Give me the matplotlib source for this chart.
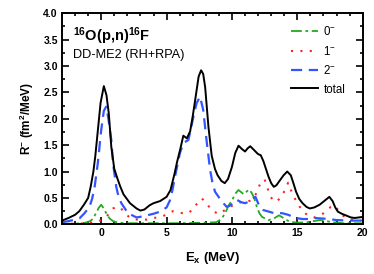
import matplotlib
matplotlib.use("Agg")
import matplotlib.pyplot as plt
from matplotlib.ticker import MultipleLocator

# ---- data ----
e_total = [-3, -2.5, -2, -1.67, -1.3, -1.0, -0.8, -0.6, -0.45, -0.25, -0.05, 0.2, 0.4, 0.58, 0.77, 1.0, 1.25, 1.45,
           1.7, 2.2, 2.7, 3.0, 3.3, 3.7, 4.0, 4.5, 5.0, 5.3, 5.6, 5.8, 6.05, 6.28, 6.55, 6.8, 7.0, 7.2, 7.45, 7.64,
           7.8, 7.95, 8.2, 8.45, 8.7, 8.9, 9.2, 9.45, 9.7, 10.0, 10.25, 10.5, 10.75, 11.0, 11.2, 11.4, 11.6, 11.8,
           12.0, 12.2, 12.4, 12.6, 12.8, 13.0, 13.2, 13.4, 13.6, 13.95, 14.23, 14.5, 14.7, 14.9, 15.15, 15.4, 15.7,
           15.95, 16.3, 16.7, 17.1, 17.45, 17.7, 17.9, 18.1, 18.4, 18.7, 19.1, 19.4, 19.7, 20.0]
r_total = [0.07, 0.12, 0.18, 0.25, 0.38, 0.5, 0.72, 1.0, 1.3, 1.8, 2.3, 2.62, 2.45, 2.1, 1.47, 1.05, 0.86, 0.72,
           0.57, 0.40, 0.30, 0.26, 0.28, 0.36, 0.40, 0.44, 0.52, 0.65, 0.95, 1.18, 1.43, 1.68, 1.63, 1.76, 2.05, 2.38,
           2.8, 2.92, 2.85, 2.6, 1.85, 1.3, 1.05, 0.93, 0.82, 0.78, 0.86, 1.09, 1.35, 1.49, 1.43, 1.38, 1.44, 1.48,
           1.43, 1.38, 1.33, 1.31, 1.2, 1.05, 0.9, 0.78, 0.71, 0.74, 0.81, 0.93, 1.0, 0.93, 0.78, 0.62, 0.48, 0.40,
           0.33, 0.30, 0.32, 0.37, 0.45, 0.52, 0.44, 0.32, 0.24, 0.2, 0.17, 0.13, 0.12, 0.13, 0.14]

e_2m = [-3, -2.5, -2, -1.67, -1.28, -0.9, -0.7, -0.52, -0.26, 0.0, 0.2, 0.38, 0.55, 0.77, 0.9, 1.15, 1.3, 1.54,
        2.05, 2.7, 2.95, 3.5, 4.0, 4.5, 5.0, 5.25, 5.45, 5.64, 5.85, 6.02, 6.28, 6.67, 6.85, 7.05, 7.3, 7.56, 7.8,
        8.08, 8.33, 8.5, 8.7, 9.2, 9.6, 9.9, 10.1, 10.4, 10.7, 11.0, 11.2, 11.5, 11.8, 12.05, 12.4, 13.1, 13.85,
        14.3, 14.87, 15.4, 16.0, 16.3, 16.9, 17.4, 18.0, 19.0, 20.0]
r_2m = [0.04, 0.06, 0.09, 0.11, 0.21, 0.33, 0.48, 0.68, 1.16, 1.79, 2.15, 2.23, 2.0, 1.6, 1.16, 0.71, 0.55, 0.4,
        0.21, 0.13, 0.14, 0.17, 0.2, 0.24, 0.32, 0.45, 0.65, 0.9, 1.15, 1.35, 1.54, 1.6, 1.8, 2.04, 2.3, 2.42, 2.17,
        1.54, 1.03, 0.8, 0.62, 0.44, 0.33, 0.36, 0.43, 0.46, 0.42, 0.40, 0.42, 0.48, 0.52, 0.37, 0.27, 0.22, 0.21,
        0.18, 0.12, 0.1, 0.1, 0.12, 0.11, 0.1, 0.08, 0.07, 0.07]

e_0m = [-3, -2, -1.2, -0.85, -0.65, -0.4, -0.2, 0.0, 0.2, 0.38, 0.64, 0.9, 1.3, 2, 4, 6, 8, 8.8, 9.2, 9.5, 9.75,
        10.0, 10.25, 10.5, 10.9, 11.3, 11.5, 11.7, 11.9, 12.1, 12.3, 12.8, 13.2, 13.6, 14.0, 14.4, 15.0, 15.8, 16.7,
        17.1, 17.6, 18.5, 20]
r_0m = [0.01, 0.01, 0.03, 0.06, 0.1, 0.21, 0.31, 0.37, 0.3, 0.21, 0.11, 0.06, 0.03, 0.02, 0.02, 0.02, 0.03, 0.04,
        0.1, 0.22, 0.36, 0.45, 0.58, 0.65, 0.57, 0.66, 0.6, 0.5, 0.33, 0.21, 0.14, 0.08, 0.11, 0.17, 0.11, 0.05,
        0.03, 0.04, 0.08, 0.07, 0.04, 0.02, 0.02]

e_1m = [-3, -2, -1, -0.3, 0.2, 0.6, 0.9, 1.2, 1.45, 1.8, 2.2, 2.9, 3.5, 4.0, 4.6, 5.1, 5.5, 6.0, 6.5, 7.0, 7.4,
        7.7, 8.05, 8.4, 8.85, 9.1, 9.6, 10.25, 10.7, 11.0, 11.4, 11.8, 12.18, 12.5, 12.7, 12.9, 13.1, 13.4, 13.8,
        14.1, 14.3, 14.6, 15.0, 15.4, 15.8, 16.3, 16.8, 17.2, 17.56, 17.8, 18.2, 18.6, 19.2, 20.0]
r_1m = [0.01, 0.01, 0.02, 0.05, 0.1, 0.2, 0.3, 0.33, 0.32, 0.22, 0.12, 0.08, 0.09, 0.12, 0.14, 0.2, 0.25, 0.22,
        0.2, 0.27, 0.42, 0.49, 0.4, 0.28, 0.21, 0.2, 0.3, 0.38, 0.42, 0.41, 0.45, 0.56, 0.78, 0.85, 0.7, 0.56, 0.46,
        0.43, 0.52, 0.68, 0.79, 0.59, 0.4, 0.25, 0.17, 0.13, 0.17, 0.25, 0.33, 0.36, 0.25, 0.14, 0.09, 0.07]

labels = ["0$^{-}$", "1$^{-}$", "2$^{-}$", "total"]

plt.rcParams['font.family'] = ['Liberation Sans', 'DejaVu Sans']
plt.rcParams['mathtext.fontset'] = 'custom'
plt.rcParams['mathtext.rm'] = 'Liberation Sans'
plt.rcParams['mathtext.bf'] = 'Liberation Sans:bold'
plt.rcParams['mathtext.it'] = 'Liberation Sans:italic'

fig = plt.figure(figsize=(3.74, 2.74), dpi=100)
ax = fig.add_axes([62/374, 1-224.3/274, (362.7-62)/374, (224.3-13.3)/274])

ax.plot(e_0m, r_0m, color='#22aa22', lw=1.3, dashes=[6, 2, 1.5, 2], label=labels[0])
ax.plot(e_1m, r_1m, color='#ff2222', lw=1.5, dashes=[1, 3.5], label=labels[1])
ax.plot(e_2m, r_2m, color='#3355ff', lw=1.6, dashes=[5, 3], label=labels[2])
ax.plot(e_total, r_total, color='black', lw=1.4, label=labels[3])

ax.set_xlim(-3, 20)
ax.set_ylim(0, 4)
ax.xaxis.set_major_locator(MultipleLocator(5))
ax.xaxis.set_minor_locator(MultipleLocator(1))
ax.yaxis.set_major_locator(MultipleLocator(0.5))
ax.yaxis.set_minor_locator(MultipleLocator(0.25))
ax.yaxis.set_major_formatter(plt.FormatStrFormatter('%.1f'))
ax.tick_params(which='both', direction='in', top=True, right=True, width=1.2)
ax.tick_params(which='major', length=5, labelsize=7.5, pad=3)
ax.tick_params(which='minor', length=2.5)
for lab in ax.get_xticklabels() + ax.get_yticklabels():
    lab.set_fontweight('bold')
for s in ax.spines.values():
    s.set_linewidth(1.4)

ax.set_xlabel("E$_\\mathbf{x}$ (MeV)", fontsize=9.5, fontweight='bold', labelpad=8)
ax.set_ylabel("R$^{\\mathbf{-}}$ (fm$^\\mathbf{2}$/MeV)", fontsize=8.5, fontweight='bold', labelpad=5)

ax.text(0.035, 0.945, "$^{\\mathbf{16}}$O(p,n)$^{\\mathbf{16}}$F", transform=ax.transAxes,
        fontsize=10.5, fontweight='bold', va='top', ha='left')
ax.text(0.035, 0.83, "DD-ME2 (RH+RPA)", transform=ax.transAxes, fontsize=9.2, va='top', ha='left')

leg = ax.legend(loc='upper right', bbox_to_anchor=(0.965, 0.975), frameon=False, fontsize=8.3,
                handlelength=2.3, handletextpad=0.5, labelspacing=0.55, borderaxespad=0.2)

fig.savefig("out.png", dpi=100)
